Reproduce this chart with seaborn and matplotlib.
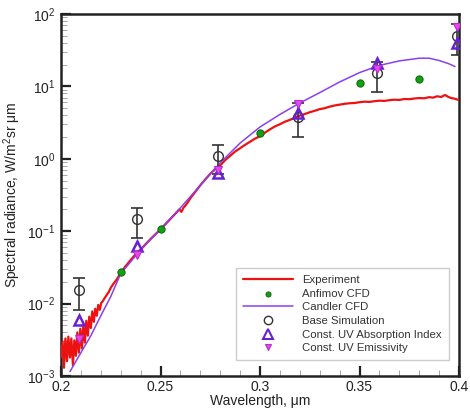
import numpy as np
import pandas as pd
import matplotlib
matplotlib.use("Agg")
import matplotlib.pyplot as plt
import seaborn as sns
from matplotlib.ticker import LogLocator, MultipleLocator, FixedLocator, NullFormatter

# ---------------- data ----------------
exp_wl = [0.2000, 0.2008, 0.2015, 0.2022, 0.2030, 0.2037, 0.2045, 0.2052, 0.2060, 0.2067,
          0.2075, 0.2082, 0.2090, 0.2097, 0.2105, 0.2112, 0.2120, 0.2127, 0.2135, 0.2142,
          0.2150, 0.2157, 0.2165, 0.2172, 0.2180, 0.2187, 0.2195, 0.2202, 0.2210, 0.2220,
          0.2230, 0.2240, 0.2250, 0.2265, 0.2280, 0.2300, 0.2325, 0.2350, 0.2375, 0.2400,
          0.2425, 0.2450, 0.2475, 0.2500, 0.2525, 0.2550, 0.2575, 0.2595, 0.2605, 0.2615,
          0.2630, 0.2650, 0.2675, 0.2700, 0.2725, 0.2750, 0.2775, 0.2800, 0.2825, 0.2850,
          0.2875, 0.2900, 0.2925, 0.2950, 0.2975, 0.3000, 0.3025, 0.3050, 0.3075, 0.3100,
          0.3125, 0.3150, 0.3175, 0.3200, 0.3225, 0.3250, 0.3275, 0.3300, 0.3325, 0.3350,
          0.3375, 0.3400, 0.3425, 0.3450, 0.3475, 0.3500, 0.3525, 0.3550, 0.3575, 0.3600,
          0.3625, 0.3650, 0.3675, 0.3700, 0.3725, 0.3750, 0.3775, 0.3800, 0.3825, 0.3850,
          0.3870, 0.3890, 0.3910, 0.3930, 0.3945, 0.3960, 0.3975, 0.3990, 0.4000]
exp_val = [0.0018, 0.0030, 0.0013, 0.0033, 0.0016, 0.0035, 0.0018, 0.0033, 0.0014, 0.0031,
           0.0019, 0.0040, 0.0021, 0.0045, 0.0024, 0.0050, 0.0029, 0.0058, 0.0036, 0.0066,
           0.0046, 0.0078, 0.0056, 0.0085, 0.0068, 0.0096, 0.0082, 0.0102, 0.0108, 0.0120,
           0.0132, 0.0145, 0.0165, 0.0190, 0.0215, 0.0265, 0.0330, 0.0400, 0.0480, 0.0560,
           0.0660, 0.0780, 0.0910, 0.1060, 0.1250, 0.1480, 0.1750, 0.2000, 0.1850, 0.2100,
           0.2350, 0.2850, 0.3500, 0.4300, 0.5200, 0.6200, 0.7200, 0.8100, 0.9600, 1.1000,
           1.2600, 1.4000, 1.5600, 1.7200, 1.9000, 2.0500, 2.3000, 2.5500, 2.8000, 3.0000,
           3.2500, 3.4500, 3.7000, 3.9500, 4.1500, 4.4000, 4.6000, 4.8500, 5.0000, 5.2500,
           5.4500, 5.6000, 5.7500, 5.8500, 5.9000, 6.0500, 6.1500, 6.1000, 6.2500, 6.3500,
           6.3000, 6.4500, 6.5500, 6.5000, 6.7000, 6.6500, 6.8000, 6.9000, 6.8500, 7.1000,
           7.0000, 7.3000, 7.1500, 7.6000, 7.2000, 6.9000, 6.8000, 6.6000, 6.5000]

candler_wl = [0.2045, 0.2100, 0.2150, 0.2200, 0.2250, 0.2300, 0.2400, 0.2500, 0.2600, 0.2700,
              0.2800, 0.2900, 0.3000, 0.3100, 0.3200, 0.3300, 0.3400, 0.3500, 0.3600, 0.3700,
              0.3800, 0.3850, 0.3900, 0.3950, 0.3980]
candler_val = [0.00115, 0.0021, 0.0036, 0.0068, 0.0125, 0.026, 0.055, 0.107, 0.21, 0.43,
               0.88, 1.65, 2.75, 4.1, 5.9, 8.2, 11.5, 15.5, 19.5, 22.5,
               24.5, 24.5, 22.8, 20.5, 18.8]

anfimov_wl = [0.23, 0.25, 0.30, 0.35, 0.38]
anfimov_val = [0.027, 0.107, 2.27, 11.0, 12.6]

sim_wl = [0.209, 0.238, 0.279, 0.319, 0.359, 0.399]
base_val = [0.0154, 0.149, 1.10, 3.8, 15.3, 50.0]
base_err_lo = [0.0082, 0.080, 0.62, 2.0, 8.3, 27.0]
base_err_hi = [0.0226, 0.210, 1.55, 5.9, 22.0, 73.0]
uvabs_val = [0.0059, 0.063, 0.63, 4.3, 21.0, 40.0]
uvemis_val = [0.0032, 0.047, 0.70, 5.7, 17.4, 67.0]

x_ticks = [0.2, 0.25, 0.3, 0.35, 0.4]
x_tick_labels = ["0.2", "0.25", "0.3", "0.35", "0.4"]

# ---------------- plot ----------------
sns.set_style("white")
plt.rcParams['font.family'] = ['Liberation Sans', 'DejaVu Sans']
plt.rcParams['mathtext.fontset'] = 'custom'
plt.rcParams['mathtext.rm'] = 'Liberation Sans'
plt.rcParams['mathtext.it'] = 'Liberation Sans'

fig = plt.figure(figsize=(4.7, 4.12), dpi=100)
ax = fig.add_axes([61/470, 1-376/412, 398/470, 362/412])

exp_df = pd.DataFrame({"wl": exp_wl, "val": exp_val})
cand_df = pd.DataFrame({"wl": candler_wl, "val": candler_val})
anf_df = pd.DataFrame({"wl": anfimov_wl, "val": anfimov_val})

sns.lineplot(data=exp_df, x="wl", y="val", ax=ax, color="#ee1111", lw=1.6,
             sort=False, estimator=None, label="Experiment", zorder=3)
sns.scatterplot(data=anf_df, x="wl", y="val", ax=ax, color="#12a012", edgecolor="#0a5a0a",
                linewidth=0.6, s=28, marker="o", label="Anfimov CFD", zorder=5)
sns.lineplot(data=cand_df, x="wl", y="val", ax=ax, color="#8a3ff0", lw=1.1,
             sort=False, estimator=None, label="Candler CFD", zorder=4)

base = np.array(base_val)
yerr = np.vstack([base - np.array(base_err_lo), np.array(base_err_hi) - base])
ax.errorbar(sim_wl, base_val, yerr=yerr, fmt="none", ecolor="#333333", elinewidth=1.2,
            capsize=4.5, capthick=1.2, zorder=6)
ax.plot(sim_wl, base_val, ls="none", marker="o", ms=7, mfc="none", mec="#333333", mew=1.0,
        label="Base Simulation", zorder=7)
ax.plot(sim_wl, uvabs_val, ls="none", marker="^", ms=7, mfc="none", mec="#6a1fd6", mew=1.8,
        label="Const. UV Absorption Index", zorder=8)
ax.plot(sim_wl, uvemis_val, ls="none", marker="v", ms=6, mfc="#ee44ee", mec="#b030d0", mew=0.8,
        label="Const. UV Emissivity", zorder=8)

ax.set_yscale("log")
ax.set_xlim(0.2, 0.4)
ax.set_ylim(1e-3, 1e2)

ax.xaxis.set_major_locator(FixedLocator(x_ticks))
ax.set_xticklabels(x_tick_labels)
ax.xaxis.set_minor_locator(MultipleLocator(0.01))
ax.yaxis.set_major_locator(LogLocator(base=10, numticks=10))
ax.yaxis.set_minor_locator(LogLocator(base=10, subs=np.arange(2, 10), numticks=20))
ax.yaxis.set_minor_formatter(NullFormatter())

ax.tick_params(axis="both", which="major", direction="in", length=7, width=1.6,
               labelsize=10, colors="#222222", top=False, right=False)
ax.tick_params(axis="x", which="major", pad=3)
ax.tick_params(axis="y", which="major", pad=4)
ax.tick_params(axis="both", which="minor", direction="in", length=4, width=0.6,
               color="#999999", top=False, right=False)
ax.tick_params(axis="x", which="both", bottom=True)
ax.tick_params(axis="y", which="both", left=True)

for sp in ax.spines.values():
    sp.set_linewidth(1.8)
    sp.set_color("#222222")

ax.set_xlabel("Wavelength, \u03bcm", fontsize=10, color="#222222", labelpad=0)
ax.set_ylabel("Spectral radiance, W/m$^2$sr \u03bcm", fontsize=10, color="#222222")
ax.yaxis.set_label_coords(-0.095, 0.5)

leg = ax.legend(loc="lower left", bbox_to_anchor=(0.44, 0.044), borderaxespad=0,
                fontsize=8.2, handlelength=4.4, handletextpad=0.8, labelspacing=0.32,
                borderpad=0.6, markerscale=0.7,
                frameon=True, fancybox=False, edgecolor="#cccccc", framealpha=1)
leg.get_frame().set_linewidth(1.0)
for t in leg.get_texts():
    t.set_color("#333333")
for h, t in zip(leg.legend_handles, leg.get_texts()):
    if t.get_text() == "Const. UV Absorption Index":
        h.set_markersize(6.5)
        h.set_markeredgewidth(1.5)
    elif t.get_text() == "Base Simulation":
        h.set_markersize(6)

fig.savefig("out.png", dpi=100)
